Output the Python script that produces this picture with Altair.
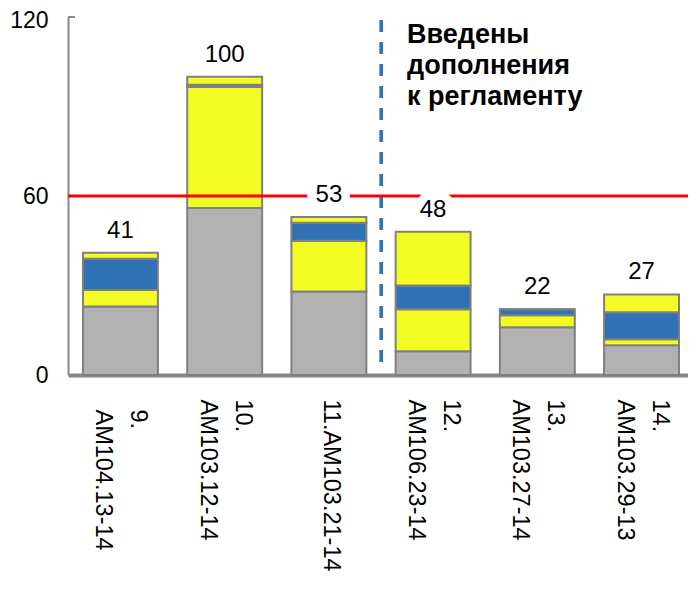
import altair as alt
import pandas as pd

categories = ["9.|AM104.13-14", "10.|AM103.12-14", "11.AM103.21-14",
              "12.|AM106.23-14", "13.|AM103.27-14", "14.|AM103.29-13"]
gray_vals = [23, 56, 28, 8, 16, 10]
yellow_low = [5.5, 40.5, 17, 14, 4, 2]
blue_vals = [10.5, 0.8, 6, 8, 2, 9]
yellow_top = [2, 2.7, 2, 18, 0, 6]
totals = [41, 100, 53, 48, 22, 27]
norm_level = [60]
note_lines = ["Введены", "дополнения", "к регламенту"]

segments = [("a_gray", gray_vals), ("b_yellow", yellow_low),
            ("c_blue", blue_vals), ("d_yellow", yellow_top)]
rows = []
for seg, vals in segments:
    for c, v in zip(categories, vals):
        rows.append({"cat": c, "seg": seg, "value": v})
df = pd.DataFrame(rows)
tot_df = pd.DataFrame({"cat": categories, "total": totals})

FONT = "Liberation Sans"
xscale = alt.Scale(domain=categories, paddingInner=0.281, paddingOuter=0.115, align=0.625)
yscale = alt.Scale(domain=[0, 120], nice=False)

x_enc = alt.X("cat:N", scale=xscale, sort=categories, title=None,
              axis=alt.Axis(labelAngle=90, labelFontSize=23.5, labelColor="black",
                            labelExpr="split(datum.label, '|')", labelLineHeight=35,
                            labelOffset={"condition": {"test": "indexof(datum.label, '|') >= 0",
                                                       "value": 18}, "value": 2},
                            labelPadding={"condition": {"test": "indexof(datum.label, '9.') == 0",
                                                        "value": 34}, "value": 24},
                            ticks=False, domainColor="#888888",
                            domainWidth=4, labelFont=FONT))

bars = alt.Chart(df).mark_bar(stroke="#808080", strokeWidth=2).encode(
    x=x_enc,
    y=alt.Y("value:Q", stack="zero", scale=yscale, title=None,
            axis=alt.Axis(values=[0, 60, 120], labelFontSize=23, labelColor="black",
                          labelPadding=20, ticks=False, grid=False,
                          labelOffset={"condition": {"test": "datum.value == 120", "value": 3},
                                       "value": 0},
                          domainColor="#888888", domainWidth=2, labelFont=FONT)),
    color=alt.Color("seg:N", legend=None,
                    scale=alt.Scale(domain=["a_gray", "b_yellow", "c_blue", "d_yellow"],
                                    range=["#B2B2B2", "#F2FC22", "#2F72B6", "#F2FC22"])),
    order=alt.Order("seg:N", sort="ascending"),
)

dashed = alt.Chart(tot_df).mark_rule(color="#2E75B6", strokeWidth=3, strokeDash=[12, 10],
                                     xOffset=15).encode(
    x=alt.XDatum(categories[2], bandPosition=1, scale=xscale),
    y=alt.YDatum(119),
    y2=alt.Y2Datum(1),
)

red = alt.Chart(pd.DataFrame({"v": norm_level})).mark_rule(color="#FF0000", strokeWidth=3).encode(
    y=alt.Y("v:Q", scale=yscale)
)

top_tick = alt.Chart(pd.DataFrame({"v": [120]})).mark_rule(color="#888888", strokeWidth=2).encode(
    y=alt.Y("v:Q", scale=yscale), x=alt.value(0), x2=alt.value(7)
)

label_bg = alt.Chart(tot_df).mark_text(baseline="bottom", dy=-10, fontSize=24, font=FONT,
                                       color="white", stroke="white", strokeWidth=17,
                                       strokeJoin="miter").encode(
    x=alt.X("cat:N", scale=xscale, sort=categories),
    y=alt.Y("total:Q", scale=yscale),
    text="total:Q",
)
labels = alt.Chart(tot_df).mark_text(baseline="bottom", dy=-10, fontSize=24, font=FONT,
                                     color="black").encode(
    x=alt.X("cat:N", scale=xscale, sort=categories),
    y=alt.Y("total:Q", scale=yscale),
    text="total:Q",
)

note = alt.Chart(pd.DataFrame({"t": [note_lines]})).mark_text(
    align="left", baseline="top", fontSize=27, fontWeight="bold", font=FONT,
    lineHeight=31, color="black").encode(
    x=alt.value(339), y=alt.value(5), text="t"
)

chart = alt.layer(bars, dashed, red, top_tick, label_bg, labels, note).properties(
    width=620, height=358,
    autosize=alt.AutoSizeParams(type="none"),
    padding={"left": 60, "top": 9, "right": 0, "bottom": 206},
).configure(font=FONT, view=alt.ViewConfig(stroke=None))

chart.save("out.html", embed_options={"renderer": "svg", "actions": False})
